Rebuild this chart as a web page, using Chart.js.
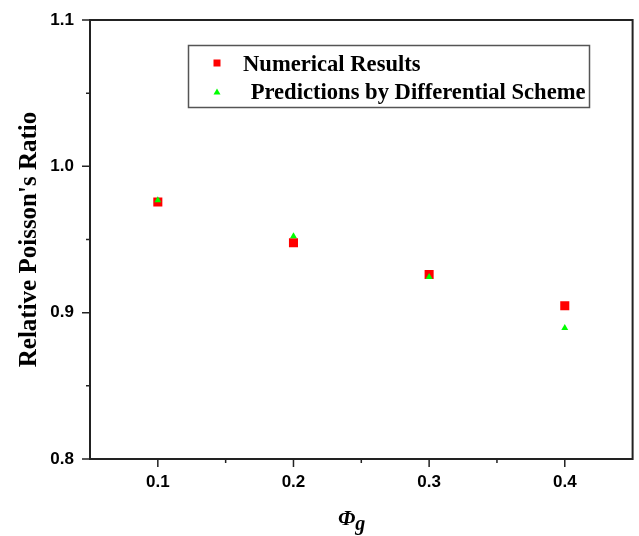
<!DOCTYPE html>
<html>
<head>
<meta charset="utf-8">
<script src="https://cdn.jsdelivr.net/npm/chart.js@4.4.1/dist/chart.umd.min.js"></script>
<style>
  html, body { margin: 0; padding: 0; background: #fff; }
  #wrap { width: 639px; height: 536px; position: relative; }
</style>
</head>
<body>
<div id="wrap"><canvas id="chart"></canvas></div>
<script>
// données
const phiG = [0.1, 0.2, 0.3, 0.4];
const numerical = [0.9756, 0.9478, 0.9261, 0.9047];
const differential = [0.9768, 0.9522, 0.9243, 0.8895];

const xTicks = [0.1, 0.2, 0.3, 0.4];
const xMinor = [0.15, 0.25, 0.35];
const yTicks = [0.8, 0.9, 1.0, 1.1];
const yMinor = [0.85, 0.95, 1.05];

const serif = '"Liberation Serif", "Times New Roman", serif';
const sans = '"Liberation Sans", Arial, sans-serif';

const toPoints = (xs, ys) => xs.map((x, i) => ({ x, y: ys[i] }));

// cadre, graduations, titre de l'axe x et légende
const decorPlugin = {
  id: 'decor',
  afterDraw(chart) {
    const { ctx, chartArea: a, scales } = chart;
    const xs = scales.x, ys = scales.y;
    ctx.save();
    ctx.strokeStyle = '#222';
    ctx.lineWidth = 2;
    ctx.strokeRect(a.left, a.top, a.right - a.left, a.bottom - a.top);

    ctx.lineWidth = 1.5;
    ctx.beginPath();
    yTicks.forEach(v => { const p = ys.getPixelForValue(v); ctx.moveTo(a.left - 8, p); ctx.lineTo(a.left, p); });
    yMinor.forEach(v => { const p = ys.getPixelForValue(v); ctx.moveTo(a.left - 4, p); ctx.lineTo(a.left, p); });
    xTicks.forEach(v => { const p = xs.getPixelForValue(v); ctx.moveTo(p, a.bottom); ctx.lineTo(p, a.bottom + 8); });
    xMinor.forEach(v => { const p = xs.getPixelForValue(v); ctx.moveTo(p, a.bottom); ctx.lineTo(p, a.bottom + 4); });
    ctx.stroke();

    // titre x : Φ avec indice g
    ctx.fillStyle = '#000';
    ctx.textBaseline = 'alphabetic';
    ctx.textAlign = 'left';
    ctx.font = 'italic bold 22px ' + serif;
    ctx.fillText('Φ', 338, 525);
    const w = ctx.measureText('Φ').width;
    ctx.font = 'italic bold 20px ' + serif;
    ctx.fillText('g', 338 + w, 530);

    // légende
    ctx.strokeStyle = '#555';
    ctx.lineWidth = 1.5;
    ctx.strokeRect(188.5, 45.5, 401, 62);
    ctx.font = 'bold 22.6px ' + serif;
    const ds = chart.data.datasets;
    ctx.fillStyle = ds[0].backgroundColor;
    ctx.fillRect(213.5, 59.5, 7, 7);
    ctx.fillStyle = '#000';
    ctx.fillText(ds[0].label, 243, 71);
    ctx.fillStyle = ds[1].backgroundColor;
    ctx.beginPath();
    ctx.moveTo(217, 88.5); ctx.lineTo(220.5, 94.5); ctx.lineTo(213.5, 94.5); ctx.closePath();
    ctx.fill();
    ctx.fillStyle = '#000';
    ctx.fillText(' ' + ds[1].label, 245, 99);
    ctx.restore();
  }
};

new Chart(document.getElementById('chart'), {
  type: 'scatter',
  data: {
    datasets: [
      {
        label: 'Numerical Results',
        data: toPoints(phiG, numerical),
        order: 1,
        pointStyle: 'rect',
        radius: 6.4,
        borderWidth: 0,
        backgroundColor: '#ff0000',
        borderColor: '#ff0000'
      },
      {
        label: 'Predictions by Differential Scheme',
        data: toPoints(phiG, differential),
        order: 0,
        pointStyle: 'triangle',
        radius: 4,
        borderWidth: 0,
        backgroundColor: '#00ff00',
        borderColor: '#00ff00'
      }
    ]
  },
  options: {
    responsive: true,
    maintainAspectRatio: false,
    animation: false,
    layout: { padding: { top: 20, right: 4, left: 0, bottom: 0 } },
    plugins: {
      legend: { display: false },
      tooltip: { enabled: false }
    },
    scales: {
      x: {
        type: 'linear',
        min: 0.05,
        max: 0.45,
        afterBuildTicks: s => { s.ticks = xTicks.map(v => ({ value: v })); },
        afterFit: s => { s.height = 77; },
        grid: { drawOnChartArea: false, tickLength: 8, color: 'rgba(0,0,0,0)' },
        border: { display: false },
        ticks: {
          padding: 5,
          color: '#000',
          font: { family: sans, size: 17, weight: 'bold' },
          callback: v => v.toFixed(1)
        }
      },
      y: {
        min: 0.8,
        max: 1.1,
        afterBuildTicks: s => { s.ticks = yTicks.map(v => ({ value: v })); },
        afterFit: s => { s.width = 90; },
        grid: { drawOnChartArea: false, tickLength: 8, color: 'rgba(0,0,0,0)' },
        border: { display: false },
        ticks: {
          padding: 8,
          color: '#000',
          font: { family: sans, size: 17, weight: 'bold' },
          callback: v => v.toFixed(1)
        },
        title: {
          display: true,
          text: "Relative Poisson's Ratio",
          color: '#000',
          font: { family: serif, size: 25, weight: 'bold' },
          padding: { top: 15, bottom: 0 }
        }
      }
    }
  },
  plugins: [decorPlugin]
});
</script>
</body>
</html>
